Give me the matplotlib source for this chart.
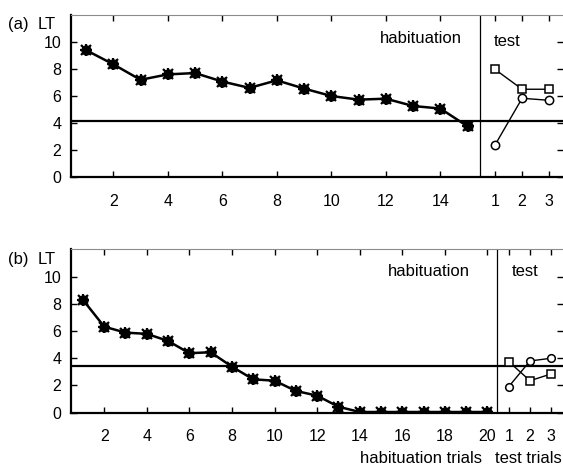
import matplotlib
matplotlib.use("Agg")
import matplotlib.pyplot as plt

plt.rcParams['font.family'] = ['Liberation Sans', 'DejaVu Sans']
plt.rcParams['font.size'] = 11.5

# panel (a)
hab_a = [9.4, 8.35, 7.2, 7.6, 7.7, 7.07, 6.6, 7.16, 6.55, 6.0, 5.73, 5.8, 5.26, 5.07, 3.75]
test_sq_a = [7.98, 6.5, 6.5]
test_ci_a = [2.35, 5.83, 5.68]
crit_a = 4.15

# panel (b)
hab_b = [8.29, 6.32, 5.88, 5.79, 5.27, 4.37, 4.44, 3.38, 2.45, 2.35, 1.6, 1.25, 0.44,
         0.05, 0.05, 0.05, 0.05, 0.05, 0.05, 0.05]
test_sq_b = [3.75, 2.35, 2.85]
test_ci_b = [1.91, 3.8, 4.0]
crit_b = 3.45

test_labels = ['1', '2', '3']
yticks = [0, 2, 4, 6, 8, 10]


def draw_panel(ax, hab, sq, ci, crit, tag, hab_ticks, xlim, hab_txt, test_txt, mk):
    n = len(hab)
    hx = list(range(1, n + 1))
    tx = [n + 1, n + 2, n + 3]
    ax.axhline(crit, color='black', lw=1.6, zorder=1)
    ax.axvline(n + 0.45, color='black', lw=0.9, zorder=1)
    ax.plot(hx, hab, color='black', lw=1.8, marker='o', ms=6.5, zorder=3)
    ax.plot(hx, hab, ls='none', marker='+', ms=9, mew=1.6, color='black', zorder=3)
    ax.plot(hx, hab, ls='none', marker='x', ms=7.5, mew=1.6, color='black', zorder=3)
    ax.plot(tx, sq, color='black', lw=1.0, marker='s', ms=mk, mfc='white', mew=1.1, zorder=4)
    ax.plot(tx, ci, color='black', lw=1.0, marker='o', ms=mk, mfc='white', mew=1.1, zorder=4)

    ax.set_xlim(*xlim)
    ax.set_ylim(0, 12)
    ax.set_yticks(yticks)
    ticks = hab_ticks + tx
    ax.set_xticks(ticks)
    ax.set_xticklabels([str(t) for t in hab_ticks] + test_labels)
    ax.tick_params(axis='x', direction='in', length=4, width=1, top=True, pad=12)
    ax.tick_params(axis='y', direction='in', length=4, width=1, right=True, pad=7)

    for s in ['left', 'bottom']:
        ax.spines[s].set_linewidth(1.6)
    ax.spines['top'].set_color('0.55')
    ax.spines['top'].set_linewidth(0.8)
    ax.spines['right'].set_visible(False)

    ax.text(hab_txt[0], hab_txt[1], 'habituation', ha='center', va='center', fontsize=12)
    ax.text(test_txt[0], test_txt[1], 'test', ha='center', va='center', fontsize=12)
    ax.text(-0.03, 0.985, 'LT', transform=ax.transAxes, ha='right', va='top', fontsize=12)
    ax.text(-0.108, 0.985, tag, transform=ax.transAxes, ha='center', va='top', fontsize=12)


fig = plt.figure(figsize=(5.63, 4.66), dpi=100)
ax1 = fig.add_axes([0.1261, 0.6202, 0.8739, 0.3476])
ax2 = fig.add_axes([0.1261, 0.1144, 0.8739, 0.3506])

draw_panel(ax1, hab_a, test_sq_a, test_ci_a, crit_a, '(a)',
           [2, 4, 6, 8, 10, 12, 14], (0.45, 18.5), (13.3, 10.25), (16.45, 10.05), 6)
draw_panel(ax2, hab_b, test_sq_b, test_ci_b, crit_b, '(b)',
           [2, 4, 6, 8, 10, 12, 14, 16, 18, 20], (0.44, 23.55), (17.25, 10.4), (21.75, 10.4), 5.5)

fig.text(0.748, 0.017, 'habituation trials', ha='center', va='center', fontsize=12)
fig.text(0.879, 0.017, 'test trials', ha='left', va='center', fontsize=12)

fig.savefig('out.png', dpi=100)
